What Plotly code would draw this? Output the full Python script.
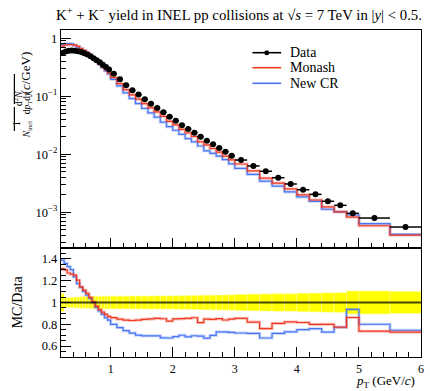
import numpy as np
import plotly.graph_objects as go

# ---------------- data ----------------
edges = [0.2, 0.25, 0.3, 0.35, 0.4, 0.45, 0.5, 0.55, 0.6, 0.65, 0.7, 0.75, 0.8, 0.85, 0.9, 0.95, 1.0,
         1.1, 1.2, 1.3, 1.4, 1.5, 1.6, 1.7, 1.8, 1.9, 2.0, 2.1, 2.2, 2.3, 2.4, 2.5, 2.6, 2.7, 2.8, 2.9, 3.0,
         3.2, 3.4, 3.6, 3.8, 4.0, 4.2, 4.4, 4.6, 4.8, 5.0, 5.5, 6.0]

data_yield = [0.56, 0.59, 0.61, 0.615, 0.61, 0.60, 0.58, 0.555, 0.525, 0.49, 0.455, 0.42, 0.385, 0.35, 0.32, 0.29,
              0.245, 0.196, 0.155, 0.127, 0.107, 0.0887, 0.0745, 0.0628, 0.053, 0.0445,
              0.0379, 0.0316, 0.0273, 0.0236, 0.0201, 0.0171, 0.0149, 0.0128, 0.0111, 0.00946,
              0.00797, 0.0063, 0.0051, 0.00395, 0.00308, 0.00245, 0.00204, 0.00155, 0.00132, 0.00096,
              0.000797, 0.000558]

monash = [0.734, 0.767, 0.775, 0.775, 0.763, 0.723, 0.663, 0.618, 0.569, 0.513, 0.458, 0.406, 0.360, 0.319, 0.285, 0.253,
          0.211, 0.166, 0.130, 0.106, 0.0897, 0.0750, 0.0633, 0.0537, 0.0451, 0.0369,
          0.0322, 0.0269, 0.0233, 0.0203, 0.0164, 0.0145, 0.0126, 0.0109, 0.00932, 0.00802,
          0.00681, 0.00517, 0.00388, 0.00319, 0.00253, 0.00200, 0.00163, 0.00124, 0.00102, 0.000828,
          0.000587, 0.000406]

new_cr = [0.778, 0.802, 0.811, 0.800, 0.753, 0.704, 0.661, 0.611, 0.560, 0.508, 0.455, 0.401, 0.355, 0.312, 0.275, 0.243,
          0.196, 0.151, 0.115, 0.0914, 0.0749, 0.0616, 0.0517, 0.0436, 0.0358, 0.0300,
          0.0260, 0.0221, 0.0187, 0.0164, 0.0139, 0.0115, 0.0104, 0.00934, 0.00810, 0.00686,
          0.00574, 0.00451, 0.00344, 0.00283, 0.00225, 0.00184, 0.00155, 0.00113, 0.00102, 0.000899,
          0.000638, 0.000416]

data_rel_err = [0.08, 0.045, 0.045, 0.047, 0.048, 0.05, 0.052, 0.053, 0.054, 0.055, 0.056, 0.057, 0.057, 0.058, 0.058, 0.058,
                0.058, 0.058, 0.058, 0.059, 0.059, 0.059, 0.06, 0.06, 0.06, 0.06,
                0.061, 0.062, 0.063, 0.064, 0.065, 0.066, 0.067, 0.068, 0.069, 0.07,
                0.074, 0.076, 0.078, 0.08, 0.08, 0.084, 0.086, 0.088, 0.09, 0.105,
                0.105, 0.10]

series_names = ["Data", "Monash", "New CR"]

main_tickvals = [1, 0.1, 0.01, 0.001]
main_ticktext = ["1", "10<sup>\u22121</sup>", "10<sup>\u22122</sup>", "10<sup>\u22123</sup>"]
ratio_tickvals = [0.6, 0.8, 1.0, 1.2, 1.4]
ratio_ticktext = ["0.6", "0.8", "1", "1.2", "1.4"]
x_tickvals = [1, 2, 3, 4, 5, 6]
x_ticktext = ["1", "2", "3", "4", "5", "6"]

# ---------------- derived ----------------
e = np.array(edges)
centers = 0.5 * (e[1:] + e[:-1])
halfw = 0.5 * (e[1:] - e[:-1])
d = np.array(data_yield)
m = np.array(monash)
n = np.array(new_cr)
rel = np.array(data_rel_err)

RED = "#ef3b24"
BLUE = "#4a76f2"
FONT = "Liberation Serif"

# pixel helpers for the 430x391 canvas (plot area x 61..424, y 30..357)
L, R, T, B = 61, 6, 30, 34
PW, PH = 430 - L - R, 391 - T - B
px = lambda xp: (xp - L) / PW
py = lambda yp: (391 - B - yp) / PH


def step(vals):
    return list(e), list(vals) + [vals[-1]]


fig = go.Figure()

# main panel MC (soft band + line)
for vals, col in [(n, BLUE), (m, RED)]:
    xs, ys = step(list(vals))
    fig.add_trace(go.Scatter(x=xs, y=ys, mode="lines", line=dict(color=col, width=3), opacity=0.3,
                             line_shape="hv", hoverinfo="skip", xaxis="x", yaxis="y"))
for vals, col, name in [(n, BLUE, series_names[2]), (m, RED, series_names[1])]:
    xs, ys = step(list(vals))
    fig.add_trace(go.Scatter(x=xs, y=ys, mode="lines", line=dict(color=col, width=1.2),
                             line_shape="hv", name=name, xaxis="x", yaxis="y"))

# data
fig.add_trace(go.Scatter(x=centers, y=d, mode="markers", name=series_names[0],
                         marker=dict(color="black", size=6),
                         error_x=dict(type="data", array=halfw, color="black", thickness=1.5, width=0),
                         error_y=dict(type="data", array=d * rel, color="black", thickness=1.5, width=0),
                         xaxis="x", yaxis="y"))

# ratio band
fig.add_trace(go.Bar(x=centers, y=2 * rel, base=1 - rel, width=2 * halfw,
                     marker=dict(color="#ffff00", line=dict(color="#ffff90", width=0.6)),
                     hoverinfo="skip", xaxis="x2", yaxis="y2"))
for vals, col in [(n, BLUE), (m, RED)]:
    xs, ys = step(list(vals / d))
    fig.add_trace(go.Scatter(x=xs, y=ys, mode="lines", line=dict(color=col, width=3), opacity=0.3,
                             line_shape="hv", hoverinfo="skip", xaxis="x2", yaxis="y2"))
    fig.add_trace(go.Scatter(x=xs, y=ys, mode="lines", line=dict(color=col, width=1.2),
                             line_shape="hv", xaxis="x2", yaxis="y2"))

# reference line at 1
fig.add_shape(type="line", xref="x2 domain", yref="y2", x0=0, x1=1, y0=1, y1=1,
              line=dict(color="rgba(0,0,0,0.72)", width=2.2))

split = 109 / 327
axis_common = dict(showline=True, linecolor="black", linewidth=1.4, mirror=True,
                   ticks="inside", tickcolor="black", tickwidth=1, showgrid=False, zeroline=False,
                   tickfont=dict(family=FONT, size=12.5, color="black"))

fig.update_layout(
    width=430, height=391,
    margin=dict(l=L, r=R, t=T, b=B),
    paper_bgcolor="white", plot_bgcolor="white",
    font=dict(family=FONT, color="black"),
    barmode="overlay",
    showlegend=False,
    xaxis=dict(domain=[0, 1], range=[0.2, 6.0], anchor="y", showticklabels=False,
               tickvals=x_tickvals, ticklen=10,
               minor=dict(dtick=0.2, tick0=0, ticks="inside", ticklen=5, tickcolor="black", showgrid=False),
               **axis_common),
    yaxis=dict(domain=[split, 1], type="log", range=[-3.615, 0.143], anchor="x",
               tickvals=main_tickvals, ticktext=main_ticktext, ticklen=10,
               minor=dict(tickmode="array",
                          tickvals=[k * 10 ** p for p in range(-4, 1) for k in range(2, 10)],
                          ticks="inside", ticklen=5, tickcolor="black", showgrid=False),
               **axis_common),
    xaxis2=dict(domain=[0, 1], range=[0.2, 6.0], anchor="y2",
                tickvals=x_tickvals, ticktext=x_ticktext, ticklen=10,
                minor=dict(dtick=0.2, tick0=0, ticks="inside", ticklen=5, tickcolor="black", showgrid=False),
                **{**axis_common, "tickfont": dict(family=FONT, size=12, color="black")}),
    yaxis2=dict(domain=[0, split], range=[0.5, 1.5], anchor="x2",
                tickvals=ratio_tickvals, ticktext=ratio_ticktext, ticklen=10,
                minor=dict(dtick=0.05, tick0=0, ticks="inside", ticklen=5, tickcolor="black", showgrid=False),
                **axis_common),
)

annotations = []
# title
annotations.append(dict(text="K<sup>+</sup> + K<sup>\u2212</sup> yield in INEL pp collisions at \u221a<i>s</i> = 7 TeV in |<i>y</i>| &lt; 0.5.",
                        xref="paper", yref="paper", x=px(427), y=py(14), xanchor="right", yanchor="middle",
                        showarrow=False, font=dict(family=FONT, size=14.8, color="black")))
# x title
annotations.append(dict(text="<i>p</i><sub>T</sub> (GeV/<i>c</i>)", xref="paper", yref="paper",
                        x=px(419), y=py(391), xanchor="right", yanchor="bottom", showarrow=False,
                        borderpad=0, font=dict(family=FONT, size=13, color="black")))
# ratio y title
annotations.append(dict(text="MC/Data", xref="paper", yref="paper", x=px(17), y=py(302),
                        xanchor="center", yanchor="middle", textangle=-90, showarrow=False,
                        font=dict(family=FONT, size=14, color="black")))
# main y title pieces
fs = 9.5
annotations.append(dict(text="(<i>c</i>/GeV)", xref="paper", yref="paper", x=px(16), y=py(49),
                        textangle=-90, showarrow=False, font=dict(family=FONT, size=13, color="black")))
annotations.append(dict(text="d<sup>2</sup><i>N</i>", xref="paper", yref="paper", x=px(9), y=py(89),
                        textangle=-90, showarrow=False, font=dict(family=FONT, size=fs, color="black")))
annotations.append(dict(text="d<i>p</i><sub>T</sub>d<i>y</i>", xref="paper", yref="paper", x=px(20), y=py(89),
                        textangle=-90, showarrow=False, font=dict(family=FONT, size=fs, color="black")))
annotations.append(dict(text="1", xref="paper", yref="paper", x=px(9), y=py(119),
                        textangle=-90, showarrow=False, font=dict(family=FONT, size=fs, color="black")))
annotations.append(dict(text="<i>N</i><sub>incl</sub>", xref="paper", yref="paper", x=px(20), y=py(119),
                        textangle=-90, showarrow=False, font=dict(family=FONT, size=fs, color="black")))
fig.add_shape(type="line", xref="paper", yref="paper", x0=px(14), x1=px(14), y0=py(74), y1=py(104),
              line=dict(color="black", width=1.2))
fig.add_shape(type="line", xref="paper", yref="paper", x0=px(14), x1=px(14), y0=py(107), y1=py(131),
              line=dict(color="black", width=1.2))

# manual legend
leg_rows = [(52.7, "black"), (67.7, RED), (83.3, BLUE)]
for (yy, col), name in zip(leg_rows, series_names):
    fig.add_shape(type="line", xref="paper", yref="paper", x0=px(254), x1=px(283), y0=py(yy), y1=py(yy),
                  line=dict(color=col, width=1.6))
    annotations.append(dict(text=name, xref="paper", yref="paper", x=px(290), y=py(yy), xanchor="left",
                            yanchor="middle", showarrow=False, font=dict(family=FONT, size=14, color="black")))
fig.add_shape(type="circle", xref="paper", yref="paper", x0=px(266), x1=px(271), y0=py(50.2), y1=py(55.2),
              fillcolor="black", line=dict(color="black", width=0))

fig.update_layout(annotations=annotations)
fig.write_html("out.html")
